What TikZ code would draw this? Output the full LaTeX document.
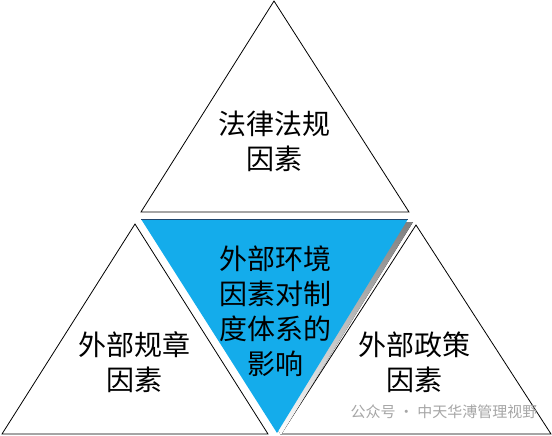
\documentclass[tikz,border=0pt]{standalone}
\usepackage{fontspec}
\newfontfamily\cjk{Noto Sans CJK SC}
\usetikzlibrary{positioning}
\definecolor{skyblue}{RGB}{20,172,235}
\definecolor{shade}{RGB}{25,150,135}
\definecolor{edgeblue}{RGB}{30,70,110}

\begin{document}
\begin{tikzpicture}[x=1pt,y=-1pt,tri/.style={draw,fill=white,line width=0.8pt},
    txt/.style={align=center,font=\cjk\fontsize{28}{35}\selectfont}]
\useasboundingbox (0,0) rectangle (552,436);
\draw[tri] (274,1) -- (409,212) -- (141,212) -- cycle;
\draw[tri] (135,224) -- (268,434) -- (2,434) -- cycle;
\draw[tri] (416,225) -- (551,434) -- (281,434) -- cycle;
\fill[shade] (146,222) -- (413,222) -- (281,435) -- cycle;
\fill[skyblue] (141,219) -- (408,219) -- (277,433) -- cycle;
\draw[edgeblue,line width=0.8pt] (141,219) -- (408,219);
\node[txt] (s1) at (274,141) {法律法规\\因素};
\node[txt] (s2) at (275,311) {外部环境\\因素对制\\度体系的\\影响};
\node[txt] (s3) at (134,362) {外部规章\\因素};
\node[txt] (s4) at (414,362) {外部政策\\因素};
\node[font=\cjk\fontsize{15}{18}\selectfont,text=black!35,anchor=west] (wm) at (347,412) {公众号 · 中天华溥管理视野};
\end{tikzpicture}
\end{document}
